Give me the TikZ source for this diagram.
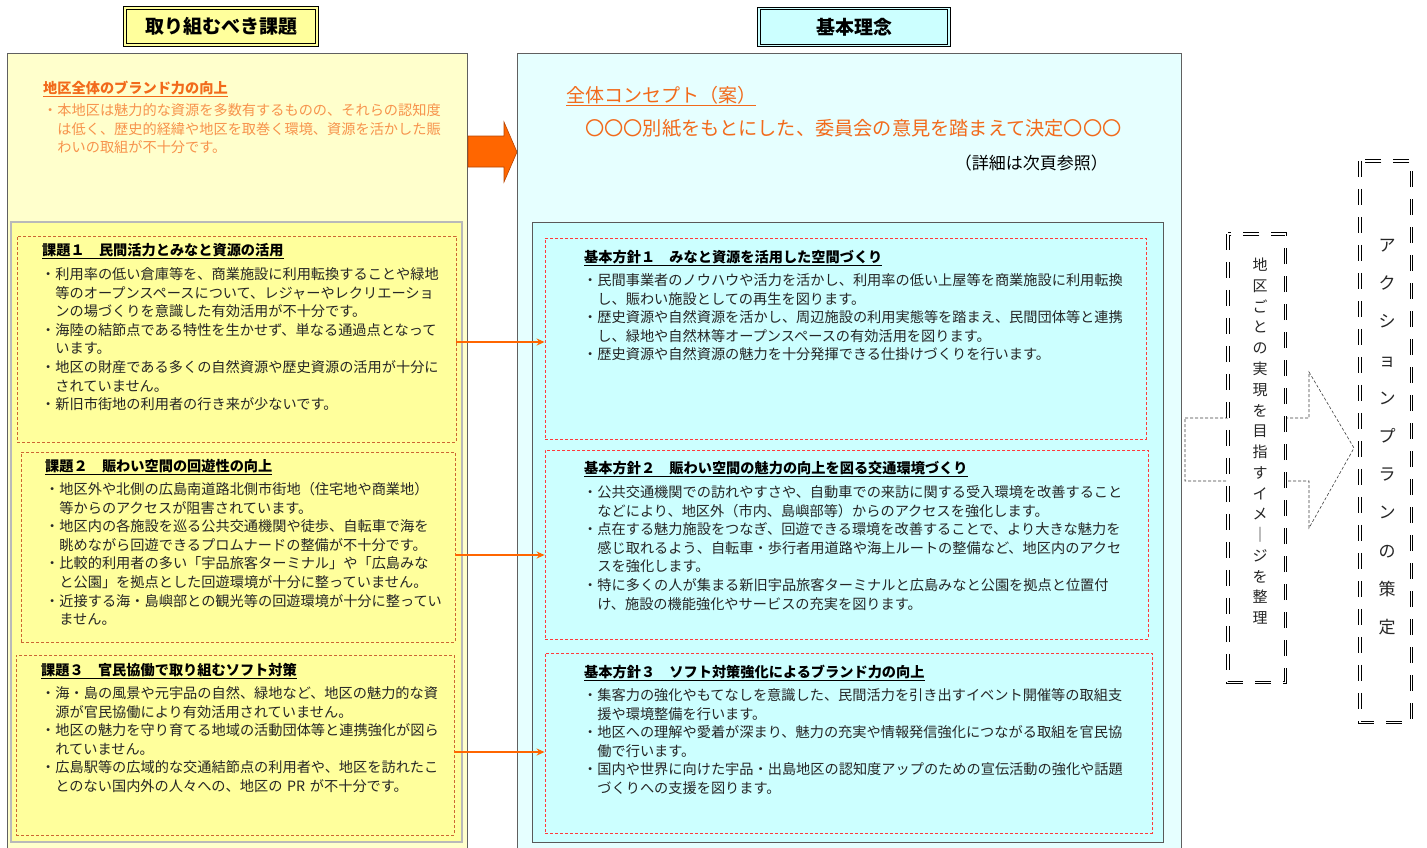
\documentclass[tikz,border=0pt]{standalone}
\usepackage{fontspec}
\setmainfont{Noto Sans CJK JP}
\usetikzlibrary{arrows.meta}
\definecolor{lyel}{HTML}{FFFFCC}
\definecolor{myel}{HTML}{FFFF9C}
\definecolor{lcyan}{HTML}{E6FFFF}
\definecolor{mcyan}{HTML}{CCFFFF}
\definecolor{orT}{HTML}{F26A1B}
\definecolor{orB}{HTML}{F7934C}
\definecolor{brd}{HTML}{CC6633}
\definecolor{rdd}{HTML}{FF3B3B}
\definecolor{txt}{HTML}{262626}
\definecolor{arr}{HTML}{FF6600}
\definecolor{arrd}{HTML}{B84400}
\tikzset{
  body/.style={anchor=base west, inner sep=0pt, align=left, text width=620pt, font=\fontsize{14.2}{18.6}\selectfont, text=txt},
  ttl/.style={anchor=base west, inner sep=0pt, font=\fontsize{14.2}{18.6}\selectfont\bfseries, text=black},
  kbox/.style={draw=brd, dash pattern=on 3pt off 2pt, line width=0.8pt, inner sep=0pt},
  hbox/.style={draw=rdd, dash pattern=on 3pt off 2pt, line width=0.8pt, inner sep=0pt},
  conn/.style={draw=arr, line width=1.4pt, -{Stealth[length=8pt,width=7pt]}},
  hdr/.style={draw=black, line width=0.9pt, double distance=1.6pt, inner sep=0pt, font=\fontsize{19}{19}\selectfont\bfseries},
  dblouter/.style={draw=black, line width=3.4pt, dash pattern=on 16pt off 12pt},
  dblinner/.style={draw=white, line width=1.4pt, dash pattern=on 16pt off 12pt},
  vtxt/.style={anchor=base, inner sep=0pt, align=center, text width=24pt, text=txt},
}
\begin{document}
\begin{tikzpicture}[x=1pt,y=-1pt]
\useasboundingbox (0,0) rectangle (1427,847);
\clip (0,0) rectangle (1427,847);
\fill[white] (0,0) rectangle (1427,847);

% ---------- left panel ----------
\draw[draw=gray!75!black, fill=lyel, line width=0.8pt] (7,53) rectangle (467,870);
\draw[draw=gray!55, fill=myel, line width=1.2pt] (11,222) rectangle (462,842);

\node[hdr, fill=myel, double=myel, minimum width=192pt, minimum height=37pt] (hL) at (221,26.5) {取り組むべき課題};

\node[ttl, text=orT] (t0) at (43,93) {\underline{地区全体のブランド力の向上}};
\node[body, text=orB] (b0) at (43,115.4) {・本地区は魅力的な資源を多数有するものの、それらの認知度\\
\hspace*{1em}は低く、歴史的経緯や地区を取巻く環境、資源を活かした賑\\
\hspace*{1em}わいの取組が不十分です。};

\node[kbox, minimum width=439pt, minimum height=206pt] (k1) at (236.5,339) {};
\node[ttl] (t1) at (42,255.5) {\underline{課題１　民間活力とみなと資源の活用}};
\node[body] (b1) at (41,279.4) {・利用率の低い倉庫等を、商業施設に利用転換することや緑地\\
\hspace*{1em}等のオープンスペースについて、レジャーやレクリエーショ\\
\hspace*{1em}ンの場づくりを意識した有効活用が不十分です。\\
・海陸の結節点である特性を生かせず、単なる通過点となって\\
\hspace*{1em}います。\\
・地区の財産である多くの自然資源や歴史資源の活用が十分に\\
\hspace*{1em}されていません。\\
・新旧市街地の利用者の行き来が少ないです。};

\node[kbox, minimum width=434pt, minimum height=190pt] (k2) at (238,547) {};
\node[ttl] (t2) at (45,471.5) {\underline{課題２　賑わい空間の回遊性の向上}};
\node[body] (b2) at (45,494.5) {・地区外や北側の広島南道路北側市街地（住宅地や商業地）\\
\hspace*{1em}等からのアクセスが阻害されています。\\
・地区内の各施設を巡る公共交通機関や徒歩、自転車で海を\\
\hspace*{1em}眺めながら回遊できるプロムナードの整備が不十分です。\\
・比較的利用者の多い「宇品旅客ターミナル」や「広島みな\\
\hspace*{1em}と公園」を拠点とした回遊環境が十分に整っていません。\\
・近接する海・島嶼部との観光等の回遊環境が十分に整ってい\\
\hspace*{1em}ません。};

\node[kbox, minimum width=438pt, minimum height=180pt] (k3) at (235,745) {};
\node[ttl] (t3) at (41,675.5) {\underline{課題３　官民協働で取り組むソフト対策}};
\node[body] (b3) at (41,698.4) {・海・島の風景や元宇品の自然、緑地など、地区の魅力的な資\\
\hspace*{1em}源が官民協働により有効活用されていません。\\
・地区の魅力を守り育てる地域の活動団体等と連携強化が図ら\\
\hspace*{1em}れていません。\\
・広島駅等の広域的な交通結節点の利用者や、地区を訪れたこ\\
\hspace*{1em}とのない国内外の人々への、地区の PR が不十分です。};

% big orange arrow
\draw[fill=arr, draw=arrd, line width=0.6pt] (468,136) -- (504,136) -- (504,122) -- (517,152) -- (504,182) -- (504,167) -- (468,167) -- cycle;

% ---------- right panel ----------
\draw[draw=gray!75!black, fill=lcyan, line width=0.8pt] (517,53) rectangle (1181,870);
\draw[draw=gray!70!black, fill=mcyan, line width=1.0pt] (532,222) rectangle (1163,842);

\node[hdr, fill=mcyan, double=mcyan, minimum width=190pt, minimum height=37pt] (hR) at (854,27) {基本理念};

\node[anchor=base west, inner sep=0pt, text=orT, font=\fontsize{19}{19}\selectfont] (c0) at (566,102.2) {\underline{全体コンセプト（案）}};
\node[anchor=base west, inner sep=0pt, text=orT, font=\fontsize{19.2}{19}\selectfont] (c1) at (585,135.2) {〇〇〇別紙をもとにした、委員会の意見を踏まえて決定〇〇〇};
\node[anchor=base east, inner sep=0pt, text=black, font=\fontsize{17}{17}\selectfont] (c2) at (1108,169.5) {（詳細は次頁参照）};

\node[hbox, minimum width=601pt, minimum height=201pt] (h1) at (845.5,338.5) {};
\node[ttl] (s1) at (584,262.5) {\underline{基本方針１　みなと資源を活用した空間づくり}};
\node[body] (p1) at (583,285.4) {・民間事業者のノウハウや活力を活かし、利用率の低い上屋等を商業施設に利用転換\\
\hspace*{1em}し、賑わい施設としての再生を図ります。\\
・歴史資源や自然資源を活かし、周辺施設の利用実態等を踏まえ、民間団体等と連携\\
\hspace*{1em}し、緑地や自然林等オープンスペースの有効活用を図ります。\\
・歴史資源や自然資源の魅力を十分発揮できる仕掛けづくりを行います。};

\node[hbox, minimum width=603pt, minimum height=189pt] (h2) at (846.5,544.5) {};
\node[ttl] (s2) at (584,473.5) {\underline{基本方針２　賑わい空間の魅力の向上を図る交通環境づくり}};
\node[body] (p2) at (583,497.4) {・公共交通機関での訪れやすさや、自動車での来訪に関する受入環境を改善すること\\
\hspace*{1em}などにより、地区外（市内、島嶼部等）からのアクセスを強化します。\\
・点在する魅力施設をつなぎ、回遊できる環境を改善することで、より大きな魅力を\\
\hspace*{1em}感じ取れるよう、自転車・歩行者用道路や海上ルートの整備など、地区内のアクセ\\
\hspace*{1em}スを強化します。\\
・特に多くの人が集まる新旧宇品旅客ターミナルと広島みなと公園を拠点と位置付\\
\hspace*{1em}け、施設の機能強化やサービスの充実を図ります。};

\node[hbox, minimum width=607pt, minimum height=180pt] (h3) at (848.5,743) {};
\node[ttl] (s3) at (584,677.5) {\underline{基本方針３　ソフト対策強化によるブランド力の向上}};
\node[body] (p3) at (583,700.4) {・集客力の強化やもてなしを意識した、民間活力を引き出すイベント開催等の取組支\\
\hspace*{1em}援や環境整備を行います。\\
・地区への理解や愛着が深まり、魅力の充実や情報発信強化につながる取組を官民協\\
\hspace*{1em}働で行います。\\
・国内や世界に向けた宇品・出島地区の認知度アップのための宣伝活動の強化や話題\\
\hspace*{1em}づくりへの支援を図ります。};

% connectors
\draw[conn] ([yshift=-3pt]k1.east) -- ([yshift=-3pt]k1.east -| h1.west);
\draw[conn] ([yshift=-8pt]k2.east) -- ([yshift=-8pt]k2.east -| h2.west);
\draw[conn] ([yshift=-7pt]k3.east) -- ([yshift=-7pt]k3.east -| h3.west);

% ---------- far right ----------
\draw[draw=black!75, line width=0.6pt, dash pattern=on 3pt off 2pt] (1185,418) -- (1309,418) -- (1309,372) -- (1354,448) -- (1309,528) -- (1309,481) -- (1185,481) -- cycle;

\node[fill=white, draw=none, minimum width=57pt, minimum height=448pt, inner sep=0pt] (area) at (1256.5,458) {};
\draw[dblouter] (area.north west) rectangle (area.south east);
\draw[dblinner] (area.north west) rectangle (area.south east);
\node[vtxt, font=\fontsize{15}{20.76}\selectfont] (areat) at (1260,270.7) {地\\区\\ご\\と\\の\\実\\現\\を\\目\\指\\す\\イ\\メ\\｜\\ジ\\を\\整\\理};

\node[draw=none, minimum width=51pt, minimum height=561pt, inner sep=0pt] (act) at (1385.5,441.5) {};
\draw[dblouter] (act.north west) rectangle (act.south east);
\draw[dblinner] (act.north west) rectangle (act.south east);
\node[vtxt, font=\fontsize{17}{38.2}\selectfont] (actt) at (1387,251.5) {ア\\ク\\シ\\ョ\\ン\\プ\\ラ\\ン\\の\\策\\定};
\end{tikzpicture}
\end{document}
